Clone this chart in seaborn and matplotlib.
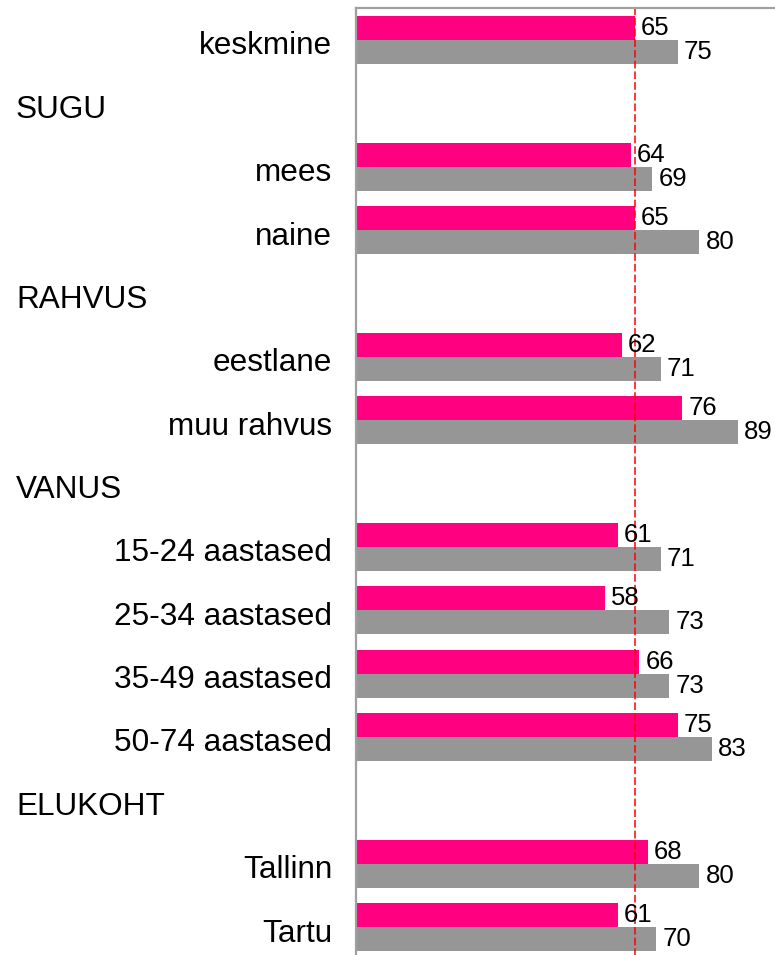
import numpy as np
import pandas as pd
import matplotlib
matplotlib.use("Agg")
import matplotlib.pyplot as plt
import matplotlib.transforms as mtransforms
import seaborn as sns

# Read da picture: row order top -> bottom, headers have no bars
ROWS = [
    'keskmine', 'SUGU', 'mees', 'naine', 'RAHVUS', 'eestlane', 'muu rahvus',
    'VANUS', '15-24 aastased', '25-34 aastased', '35-49 aastased',
    '50-74 aastased', 'ELUKOHT', 'Tallinn', 'Tartu'
]
HEADERS = ['SUGU', 'RAHVUS', 'VANUS', 'ELUKOHT']
CATEGORIES = [r for r in ROWS if r not in HEADERS]

SERIES = ['seeria 1', 'seeria 2']
VALUES_1 = [65, 64, 65, 62, 76, 61, 58, 66, 75, 68, 61]   # roosa
VALUES_2 = [75, 69, 80, 71, 89, 71, 73, 73, 83, 80, 70]   # hall
AVERAGE = 65

PINK = '#FF0080'
GRAY = '#969696'
SPINE = '#A0A0A0'

df = pd.DataFrame({
    'grupp': CATEGORIES * 2,
    'seeria': [SERIES[0]] * len(CATEGORIES) + [SERIES[1]] * len(CATEGORIES),
    'vaartus': VALUES_1 + VALUES_2,
})

sns.set_style('white')
plt.rcParams['font.family'] = ['Liberation Sans', 'DejaVu Sans']
plt.rcParams['text.color'] = 'black'

W, H = 775, 955
fig = plt.figure(figsize=(W / 100, H / 100), dpi=100)

# axes geometry in pixels (chart area runs slightly past the right/bottom edge)
left_px, top_px, slot_px = 356, 8.3, 63.36
px_per_unit = 4.29
ax_w = 100 * px_per_unit
ax_h = slot_px * len(ROWS)
ax = fig.add_axes([left_px / W, 1 - (top_px + ax_h) / H, ax_w / W, ax_h / H])

sns.barplot(
    data=df, y='grupp', x='vaartus', hue='seeria', order=ROWS,
    hue_order=SERIES, palette=[PINK, GRAY], width=0.758, saturation=1,
    errorbar=None, linewidth=0, legend=False, ax=ax
)
ax.set_xlim(0, 100)
ax.set_ylim(len(ROWS) - 0.5, -0.5)

# value labels
for cont in ax.containers:
    ax.bar_label(cont, fmt='%d', padding=4.5, fontsize=18.5, color='black')

# average line
ax.axvline(AVERAGE, color='#FF0000', lw=1.1, dashes=(5, 2))

# category labels right aligned, headers left aligned (drawn as text)
ax.set_yticks([])
ax.set_xticks([])
ax.set_xlabel('')
ax.set_ylabel('')

shift = mtransforms.ScaledTranslation(0, -3 / 100, fig.dpi_scale_trans)
trans = mtransforms.blended_transform_factory(fig.transFigure, ax.transData) + shift
for i, r in enumerate(ROWS):
    if r in HEADERS:
        ax.text(16 / W, i, r, transform=trans, ha='left', va='center_baseline',
                fontsize=22.7, color='black')
    else:
        ax.text(332 / W, i, r, transform=trans, ha='right', va='center_baseline',
                fontsize=22.7, color='black')

for side in ['right', 'bottom']:
    ax.spines[side].set_visible(False)
for side in ['left', 'top']:
    ax.spines[side].set_color(SPINE)
    ax.spines[side].set_linewidth(1.6)

fig.savefig('out.png', dpi=100)
